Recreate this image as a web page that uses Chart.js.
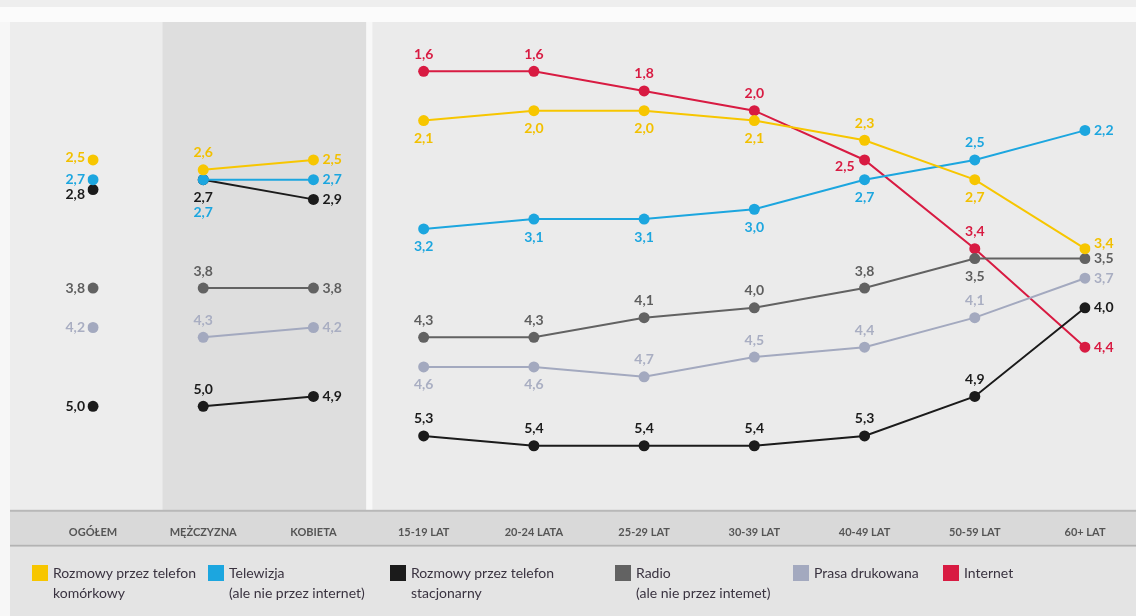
<!DOCTYPE html>
<html>
<head>
<meta charset="utf-8">
<script src="https://cdn.jsdelivr.net/npm/chart.js@4"></script>
<style>
  body { margin: 0; background: #f7f7f7; }
  #wrap { position: relative; width: 1136px; height: 616px; overflow: hidden; }
  #legend { position: absolute; left: 0; top: 546px; width: 1136px; height: 70px;
            font-family: Lato, "Open Sans", sans-serif; font-size: 14px; color: #3a3340; }
  .item { position: absolute; top: 17px; }
  .sw { position: absolute; left: 0; top: 2px; width: 16px; height: 16px; }
  .txt { position: absolute; left: 21px; top: 0; white-space: nowrap; line-height: 20px; }
</style>
</head>
<body>
<div id="wrap">
  <canvas id="chart" width="1136" height="616"></canvas>
  <div id="legend"></div>
</div>
<script>
// --- dane ---
const categories = ['OGÓŁEM', 'MĘŻCZYZNA', 'KOBIETA', '15-19 LAT', '20-24 LATA',
                    '25-29 LAT', '30-39 LAT', '40-49 LAT', '50-59 LAT', '60+ LAT'];

const seriesNames = [
  ['Rozmowy przez telefon', 'komórkowy'],
  ['Telewizja', '(ale nie przez internet)'],
  ['Rozmowy przez telefon', 'stacjonarny'],
  ['Radio', '(ale nie przez intemet)'],
  ['Prasa drukowana'],
  ['Internet']
];

const komorkowy   = [2.5, 2.6, 2.5, 2.1, 2.0, 2.0, 2.1, 2.3, 2.7, 3.4];
const telewizja   = [2.7, 2.7, 2.7, 3.2, 3.1, 3.1, 3.0, 2.7, 2.5, 2.2];
const stacjonarny = [5.0, 5.0, 4.9, 5.3, 5.4, 5.4, 5.4, 5.3, 4.9, 4.0];
const radio       = [3.8, 3.8, 3.8, 4.3, 4.3, 4.1, 4.0, 3.8, 3.5, 3.5];
const prasa       = [4.2, 4.3, 4.2, 4.6, 4.6, 4.7, 4.5, 4.4, 4.1, 3.7];
const internet    = [2.8, 2.7, 2.9, 1.6, 1.6, 1.8, 2.0, 2.5, 3.4, 4.4];

// --- styl ---
const colors      = ['#f7c600', '#1ca6df', '#1b1b1b', '#626262', '#a3a9bf', '#d81b42'];
const labelColors = ['#f2c000', '#1ca6df', '#1b1b1b', '#5e5e5e', '#a9aec2', '#d81b42'];
const legendLeft  = [32, 208, 390, 615, 793, 943];

// gdzie stoi etykieta: l = lewo, r = prawo, a = nad, b = pod, b2 = pod (drugi wiersz)
const placement = [
  ['lu', 'a', 'r', 'b', 'b', 'b', 'b', 'a', 'b', 'ru'],
  ['l', 'b2', 'r', 'b', 'b', 'b', 'b', 'b', 'a', 'r'],
  ['l', 'a', 'r', 'a', 'a', 'a', 'a', 'a', 'a', 'r'],
  ['l', 'a', 'r', 'a', 'a', 'a', 'a', 'a', 'b', 'r'],
  ['l', 'a', 'r', 'b', 'b', 'a', 'a', 'a', 'a', 'r'],
  ['ld', 'b', 'r', 'a', 'a', 'a', 'a', 'lb', 'a', 'r']
];

const allSeries = [komorkowy, telewizja, stacjonarny, radio, prasa, internet];
const BLACK = '#1b1b1b';

// internet dla OGÓŁEM / płci narysowany na czarno (jak w oryginale)
function pointColor(si, i) {
  if (si === 5 && i <= 2) return BLACK;
  return colors[si];
}

const datasets = allSeries.map((data, si) => ({
  label: seriesNames[si].join(' '),
  data: data,
  borderColor: colors[si],
  borderWidth: 2,
  pointRadius: 5.5,
  pointHoverRadius: 5.5,
  pointBorderWidth: 0,
  pointBackgroundColor: data.map((_, i) => pointColor(si, i)),
  tension: 0,
  fill: false,
  segment: {
    borderColor: ctx => {
      const i = ctx.p0DataIndex;
      if (i === 0 || i === 2) return 'transparent';
      if (si === 5 && i === 1) return BLACK;
      return colors[si];
    }
  }
}));

// tło: panele + pasek osi
const panelsPlugin = {
  id: 'panels',
  beforeDraw(chart) {
    const { ctx, chartArea: a, scales: { x } } = chart;
    const W = chart.width;
    const p0 = x.getPixelForValue(0), p1 = x.getPixelForValue(1), p2 = x.getPixelForValue(2);
    const step = p1 - p0;
    const gl = p1 - 0.37 * step, gr = p2 + 0.48 * step;
    ctx.save();
    ctx.fillStyle = '#f7f7f7'; ctx.fillRect(0, 0, W, chart.height);
    ctx.fillStyle = '#eeeeee'; ctx.fillRect(0, 0, W, 7);
    ctx.fillStyle = '#fbfbfb'; ctx.fillRect(0, 7, W, a.top - 7);
    ctx.fillStyle = '#ededed'; ctx.fillRect(10, a.top, gl - 10, a.bottom - a.top);
    ctx.fillStyle = '#dedede'; ctx.fillRect(gl, a.top, gr - gl, a.bottom - a.top);
    ctx.fillStyle = '#f8f8f8'; ctx.fillRect(gr, a.top, 6, a.bottom - a.top);
    ctx.fillStyle = '#ebebeb'; ctx.fillRect(gr + 6, a.top, W - gr - 6, a.bottom - a.top);
    // pasek z etykietami osi
    ctx.fillStyle = '#d9d9d9'; ctx.fillRect(10, a.bottom, W - 10, 35);
    ctx.fillStyle = '#b8b8b8'; ctx.fillRect(10, a.bottom - 1, W - 10, 2);
    ctx.fillStyle = '#b3b3b3'; ctx.fillRect(10, a.bottom + 34, W - 10, 2);
    ctx.fillStyle = '#e4e4e4'; ctx.fillRect(10, a.bottom + 36, W - 10, chart.height - a.bottom - 36);
    ctx.restore();
  }
};

// etykiety wartości z przecinkiem
const valueLabels = {
  id: 'valueLabels',
  afterDatasetsDraw(chart) {
    const ctx = chart.ctx;
    ctx.save();
    ctx.font = 'bold 14px Lato, sans-serif';
    ctx.textBaseline = 'middle';
    chart.data.datasets.forEach((ds, si) => {
      const meta = chart.getDatasetMeta(si);
      meta.data.forEach((pt, i) => {
        const txt = ds.data[i].toFixed(1).replace('.', ',');
        const pos = placement[si][i];
        let x = pt.x, y = pt.y, align = 'center';
        if (pos === 'l') { x -= 8; align = 'right'; }
        else if (pos === 'lu') { x -= 8; y -= 2; align = 'right'; }
        else if (pos === 'ld') { x -= 8; y += 5; align = 'right'; }
        else if (pos === 'lb') { x -= 10; y += 7; align = 'right'; }
        else if (pos === 'r') { x += 9; align = 'left'; }
        else if (pos === 'ru') { x += 9; y -= 5; align = 'left'; }
        else if (pos === 'a') { y -= 17; }
        else if (pos === 'b') { y += 18; }
        else if (pos === 'b2') { y += 33; }
        ctx.textAlign = align;
        ctx.fillStyle = (si === 5 && i <= 2) ? BLACK : labelColors[si];
        ctx.fillText(txt, x, y);
      });
    });
    ctx.restore();
  }
};

new Chart(document.getElementById('chart'), {
  type: 'line',
  data: { labels: categories, datasets: datasets },
  plugins: [panelsPlugin, valueLabels],
  options: {
    responsive: false,
    animation: false,
    layout: { padding: { left: 93, right: 51, top: 22, bottom: 62 } },
    plugins: { legend: { display: false }, tooltip: { enabled: false } },
    scales: {
      x: {
        offset: false,
        grid: { display: false, drawTicks: false },
        border: { display: false },
        ticks: {
          padding: 15,
          color: '#555555',
          font: { family: 'Lato, sans-serif', size: 11, weight: 'bold' },
          maxRotation: 0,
          autoSkip: false
        }
      },
      y: {
        display: false,
        reverse: true,
        min: 1.1,
        max: 6.06
      }
    }
  }
});

// legenda (HTML, dwa wiersze tekstu)
const legend = document.getElementById('legend');
seriesNames.forEach((lines, si) => {
  const item = document.createElement('div');
  item.className = 'item';
  item.style.left = legendLeft[si] + 'px';
  const sw = document.createElement('div');
  sw.className = 'sw';
  sw.style.background = colors[si];
  const txt = document.createElement('div');
  txt.className = 'txt';
  txt.innerHTML = lines.join('<br>');
  item.appendChild(sw);
  item.appendChild(txt);
  legend.appendChild(item);
});
</script>
</body>
</html>
